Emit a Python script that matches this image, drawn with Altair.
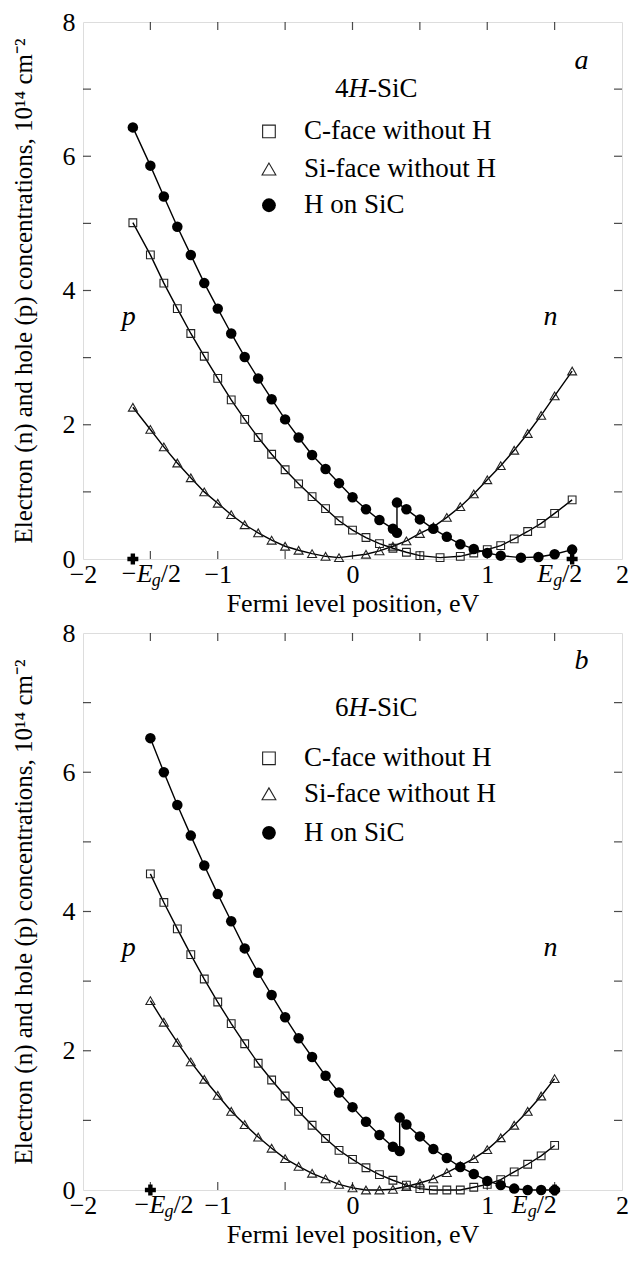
import altair as alt
import pandas as pd

FONT = "Liberation Serif"

# ---------------- Panel a : 4H-SiC ----------------
A_C_X = [-1.63, -1.5, -1.4, -1.3, -1.2, -1.1, -1.0, -0.9, -0.8, -0.7, -0.6, -0.5, -0.4, -0.3, -0.2, -0.1,
         0.0, 0.1, 0.2, 0.3, 0.4, 0.5, 0.65, 0.8, 0.9, 1.0, 1.1, 1.2, 1.3, 1.4, 1.5, 1.63]
A_C_Y = [5.01, 4.53, 4.11, 3.73, 3.36, 3.02, 2.69, 2.37, 2.08, 1.81, 1.56, 1.33, 1.12, 0.93, 0.75, 0.57,
         0.43, 0.32, 0.23, 0.16, 0.10, 0.05, 0.02, 0.04, 0.09, 0.14, 0.20, 0.30, 0.41, 0.53, 0.68, 0.88]
A_S_X = [-1.63, -1.5, -1.4, -1.3, -1.2, -1.1, -1.0, -0.9, -0.8, -0.7, -0.6, -0.5, -0.4, -0.3, -0.2, -0.1,
         0.1, 0.2, 0.3, 0.4, 0.5, 0.6, 0.7, 0.8, 0.9, 1.0, 1.1, 1.2, 1.3, 1.4, 1.5, 1.63]
A_S_Y = [2.26, 1.93, 1.67, 1.43, 1.21, 1.00, 0.83, 0.66, 0.51, 0.39, 0.28, 0.19, 0.13, 0.08, 0.04, 0.02,
         0.07, 0.12, 0.19, 0.27, 0.38, 0.48, 0.62, 0.78, 0.97, 1.18, 1.39, 1.62, 1.87, 2.14, 2.43, 2.80]
A_H_X = [-1.63, -1.5, -1.4, -1.3, -1.2, -1.1, -1.0, -0.9, -0.8, -0.7, -0.6, -0.5, -0.4, -0.3, -0.2, -0.1,
         0.0, 0.1, 0.2, 0.3, 0.33, 0.33, 0.4, 0.5, 0.6, 0.7, 0.8, 0.9, 1.0, 1.1, 1.25, 1.38, 1.5, 1.63]
A_H_Y = [6.43, 5.86, 5.40, 4.95, 4.53, 4.11, 3.73, 3.36, 3.01, 2.69, 2.38, 2.08, 1.81, 1.55, 1.34, 1.13,
         0.92, 0.74, 0.58, 0.45, 0.39, 0.84, 0.74, 0.59, 0.45, 0.33, 0.22, 0.15, 0.09, 0.05, 0.02, 0.03, 0.07, 0.14]
A_EG2 = 1.63

# ---------------- Panel b : 6H-SiC ----------------
B_X = [-1.5, -1.4, -1.3, -1.2, -1.1, -1.0, -0.9, -0.8, -0.7, -0.6, -0.5, -0.4, -0.3, -0.2, -0.1,
       0.0, 0.1, 0.2, 0.3, 0.4, 0.5, 0.6, 0.7, 0.8, 0.9, 1.0, 1.1, 1.2, 1.3, 1.4, 1.5]
B_C_Y = [4.54, 4.13, 3.75, 3.38, 3.03, 2.70, 2.39, 2.10, 1.82, 1.58, 1.35, 1.13, 0.93, 0.74, 0.57,
         0.44, 0.32, 0.22, 0.14, 0.07, 0.02, 0.0, 0.0, 0.0, 0.04, 0.08, 0.15, 0.26, 0.37, 0.49, 0.64]
B_S_Y = [2.72, 2.41, 2.12, 1.84, 1.59, 1.36, 1.13, 0.94, 0.76, 0.60, 0.45, 0.34, 0.24, 0.16, 0.08,
         0.03, 0.0, 0.0, 0.01, 0.05, 0.10, 0.16, 0.25, 0.35, 0.45, 0.58, 0.75, 0.93, 1.13, 1.35, 1.60]
B_H_X = [-1.5, -1.4, -1.3, -1.2, -1.1, -1.0, -0.9, -0.8, -0.7, -0.6, -0.5, -0.4, -0.3, -0.2, -0.1,
         0.0, 0.1, 0.2, 0.3, 0.35, 0.35, 0.4, 0.5, 0.6, 0.7, 0.8, 0.9, 1.0, 1.1, 1.2, 1.3, 1.4, 1.5]
B_H_Y = [6.49, 6.00, 5.53, 5.09, 4.66, 4.25, 3.86, 3.47, 3.12, 2.80, 2.48, 2.18, 1.91, 1.64, 1.40,
         1.19, 0.98, 0.79, 0.62, 0.56, 1.04, 0.94, 0.77, 0.59, 0.46, 0.33, 0.23, 0.13, 0.07, 0.02, 0.0, 0.0, 0.0]
B_EG2 = 1.5

X_LABELS = [-2, -1, 0, 1, 2]
Y_LABELS = [0, 2, 4, 6, 8]
X_TICKS = [-1.5, -1.0, -0.5, 0.0, 0.5, 1.0, 1.5]
Y_TICKS = [1, 2, 3, 4, 5, 6, 7]
LEGEND = ["C-face without H", "Si-face without H", "H on SiC"]
Y_TITLE = "Electron (n) and hole (p) concentrations, 10\u00b9\u2074 cm\u207b\u00b2"
X_TITLE = "Fermi level position, eV"

W = 539


def df(xs, ys):
    return pd.DataFrame({"x": xs, "y": ys, "i": list(range(len(xs)))})


def panel(cx, cy, sx, sy, hx, hy, eg2, letter, poly, height, leg_y, poly_y, letter_y, pn_y,
          eg_left_dx, eg_right_dx):
    xs = alt.Scale(domain=[-2, 2], nice=False, zero=False)
    ysc = alt.Scale(domain=[0, 8], nice=False, zero=False)
    xaxis = alt.Axis(values=X_LABELS, format="d", ticks=False, tickSize=0, domain=False, grid=False,
                     labelFont=FONT, labelFontSize=26, labelPadding=2, labelFlush=False,
                     labelColor="black", titleFont=FONT, titleFontSize=26, titleFontWeight="normal",
                     titleColor="black", titlePadding=3)
    yaxis = alt.Axis(values=Y_LABELS, format="d", ticks=False, tickSize=0, domain=False, grid=False,
                     labelFont=FONT, labelFontSize=26, labelPadding=8, labelFlush=False,
                     labelColor="black", titleFont=FONT, titleFontSize=25, titleFontWeight="normal",
                     titleColor="black", titlePadding=26)
    X = alt.X("x:Q", scale=xs, axis=xaxis, title=X_TITLE)
    Y = alt.Y("y:Q", scale=ysc, axis=yaxis, title=Y_TITLE)

    dC, dS, dH = df(cx, cy), df(sx, sy), df(hx, hy)
    layers = []
    for d in (dC, dS, dH):
        layers.append(alt.Chart(d).mark_line(color="black", strokeWidth=1.4).encode(x=X, y=Y, order="i:Q"))
    layers.append(alt.Chart(dC).mark_point(shape="square", filled=False, size=60, color="#222",
                                           strokeWidth=1.1, opacity=1).encode(x=X, y=Y))
    layers.append(alt.Chart(dS).mark_point(shape="triangle-up", filled=False, size=80, color="#222",
                                           strokeWidth=1.1, opacity=1).encode(x=X, y=Y))
    layers.append(alt.Chart(dH).mark_circle(size=110, color="black", opacity=1).encode(x=X, y=Y))

    # inward ticks on all four sides
    tx = pd.DataFrame({"x": X_TICKS})
    ty = pd.DataFrame({"y": Y_TICKS})
    for yv in (0, 8):
        layers.append(alt.Chart(tx).mark_tick(orient="vertical", size=16, thickness=1.2, color="black",
                                              clip=True).encode(x=X, y=alt.datum(yv)))
    for xv in (-2, 2):
        layers.append(alt.Chart(ty).mark_tick(orient="horizontal", size=16, thickness=1.2, color="black",
                                              clip=True).encode(x=alt.datum(xv), y=Y))

    # crosses at +/- Eg/2
    layers.append(alt.Chart(df([-eg2, eg2], [0, 0])).mark_point(shape="cross", filled=True, size=120,
                                                               color="black", opacity=1).encode(x=X, y=Y))

    # Eg/2 labels below the axis
    def lab(xv, txt, dx, dy, size, italic):
        return alt.Chart(pd.DataFrame({"x": [xv]})).mark_text(
            text=txt, align="left", baseline="top", dx=dx, dy=dy, font=FONT, fontSize=size,
            fontStyle="italic" if italic else "normal", color="black").encode(x=X, y=alt.datum(0))
    L, R = eg_left_dx, eg_right_dx
    layers += [lab(-eg2, "\u2212", L, 2, 26, False), lab(-eg2, "E", L + 15, 2, 26, True),
               lab(-eg2, "g", L + 30, 13, 18, True), lab(-eg2, "/2", L + 39, 2, 26, False)]
    layers += [lab(eg2, "E", R, 2, 26, True), lab(eg2, "g", R + 16, 13, 18, True),
               lab(eg2, "/2", R + 25, 2, 26, False)]

    # annotations
    def txt(xv, yv, t, size=26, italic=False, align="left", dx=0):
        return alt.Chart(pd.DataFrame({"x": [xv], "y": [yv]})).mark_text(
            text=t, align=align, baseline="middle", dx=dx, font=FONT, fontSize=size,
            fontStyle="italic" if italic else "normal", color="black").encode(x=X, y=Y)
    layers.append(txt(1.70, letter_y, letter, 28, True, "center"))
    layers.append(txt(-1.66, pn_y, "p", 28, True, "center"))
    layers.append(txt(1.47, pn_y, "n", 28, True, "center"))
    layers.append(txt(-0.13, poly_y, poly, 27, False, "left", 0))
    layers.append(txt(-0.13, poly_y, "H", 27, True, "left", 13.5))
    layers.append(txt(-0.13, poly_y, "-SiC", 27, False, "left", 33))

    # legend
    lx, tx0 = -0.62, -0.36
    layers.append(alt.Chart(df([lx], [leg_y[0]])).mark_point(shape="square", filled=False, size=160,
                                                            color="#222", strokeWidth=1.1, opacity=1).encode(x=X, y=Y))
    layers.append(alt.Chart(df([lx], [leg_y[1]])).mark_point(shape="triangle-up", filled=False, size=190,
                                                            color="#222", strokeWidth=1.1, opacity=1).encode(x=X, y=Y))
    layers.append(alt.Chart(df([lx], [leg_y[2]])).mark_circle(size=190, color="black", opacity=1).encode(x=X, y=Y))
    for k in range(3):
        layers.append(txt(tx0, leg_y[k], LEGEND[k], 27, False, "left"))

    return alt.layer(*layers).properties(width=W, height=height)


top = panel(A_C_X, A_C_Y, A_S_X, A_S_Y, A_H_X, A_H_Y, A_EG2, "a", "4",
            537, [6.37, 5.81, 5.27], 7.0, 7.42, 3.6, -11, -35)
bottom = panel(B_X, B_C_Y, B_X, B_S_Y, B_H_X, B_H_Y, B_EG2, "b", "6",
               557, [6.2, 5.69, 5.13], 6.92, 7.6, 3.48, -16, -43)

chart = alt.vconcat(top, bottom, spacing=2).properties(
    padding={"left": 2, "top": 0, "right": 0, "bottom": 0}).configure_view(
    stroke="black", strokeWidth=1.5).configure(font=FONT)

chart.save("out.html", embed_options={"renderer": "svg", "actions": False})
